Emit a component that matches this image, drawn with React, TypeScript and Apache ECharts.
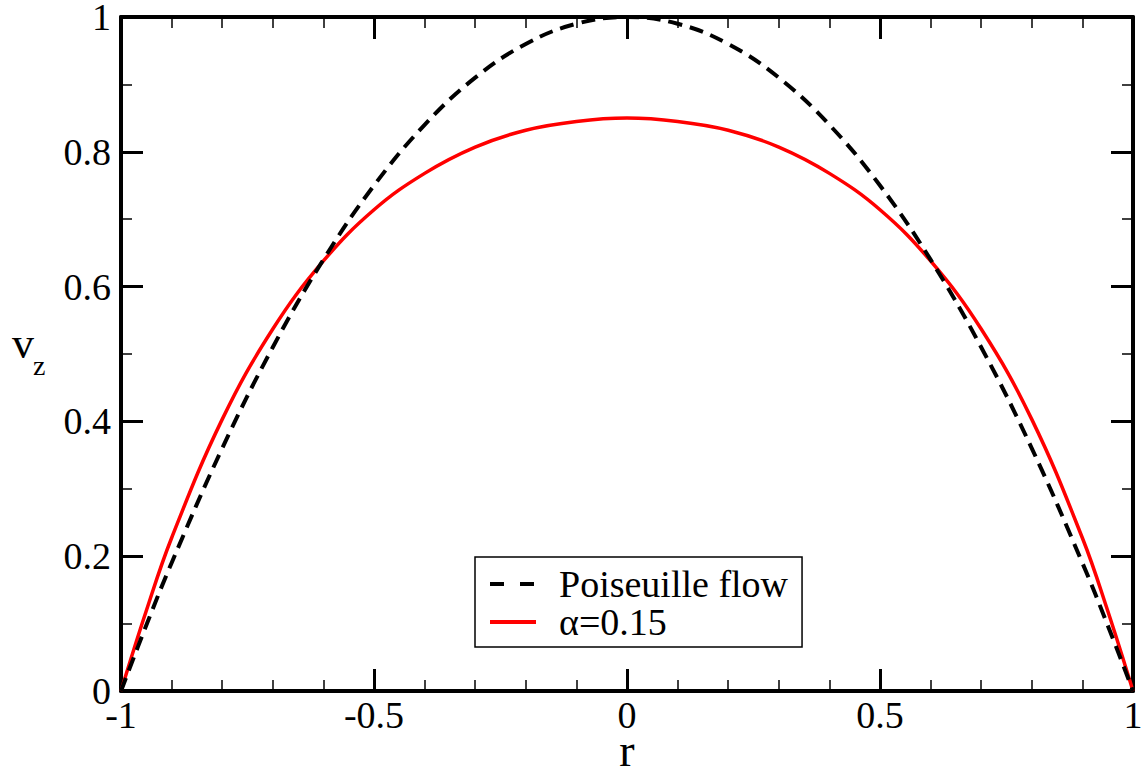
import React, { useEffect, useRef } from "react";
import * as echarts from "echarts";

const rValues = [-1, -0.95, -0.9, -0.8, -0.7, -0.6, -0.5, -0.4, -0.3, -0.2, -0.1, 0, 0.1, 0.2, 0.3, 0.4, 0.5, 0.6, 0.7, 0.8, 0.9, 0.95, 1];
const poiseuille = [0, 0.0975, 0.19, 0.36, 0.51, 0.64, 0.75, 0.84, 0.91, 0.96, 0.99, 1, 0.99, 0.96, 0.91, 0.84, 0.75, 0.64, 0.51, 0.36, 0.19, 0.0975, 0];
const alpha015 = [0, 0.119, 0.227, 0.403, 0.537, 0.638, 0.714, 0.768, 0.807, 0.832, 0.845, 0.85, 0.845, 0.832, 0.807, 0.768, 0.714, 0.638, 0.537, 0.403, 0.227, 0.119, 0];
const seriesNames = ["Poiseuille flow", "α=0.15"];

const FONT = "Liberation Serif, Times New Roman, serif";

export default function App() {
  const ref = useRef<HTMLDivElement>(null);
  useEffect(() => {
    if (!ref.current) return;
    const chart = echarts.init(ref.current, null, { renderer: "svg" });
    const line = { show: true, onZero: false, lineStyle: { color: "#000", width: 4 } };
    const tick = { show: true, inside: true, length: 22, lineStyle: { color: "#000", width: 3 } };
    const xBase = (pos: "bottom" | "top", show: boolean) => ({
      type: "value" as const,
      position: pos,
      min: -1,
      max: 1,
      interval: 0.5,
      axisLine: line,
      axisTick: tick,
      splitLine: { show: false },
      minorSplitLine: { show: false },
      minorTick: { show: true, splitNumber: 5, length: 11, lineStyle: { color: "#000", width: 1.5 } },
      axisLabel: { show, color: "#000", fontFamily: FONT, fontSize: 38, margin: 5 },
    });
    const yBase = (pos: "left" | "right", show: boolean) => ({
      type: "value" as const,
      position: pos,
      min: 0,
      max: 1,
      interval: 0.2,
      axisLine: line,
      axisTick: tick,
      splitLine: { show: false },
      minorSplitLine: { show: false },
      minorTick: { show: true, splitNumber: 2, length: 11, lineStyle: { color: "#000", width: 1.5 } },
      axisLabel: { show, color: "#000", fontFamily: FONT, fontSize: 38, lineHeight: 30, margin: 10 },
    });
    chart.setOption({
      animation: false,
      backgroundColor: "#fff",
      grid: { left: 121, right: 9, top: 17, bottom: 76, containLabel: false, outerBoundsMode: "none" },
      xAxis: [
        {
          ...xBase("bottom", true),
          name: "r",
          nameLocation: "middle",
          nameGap: 44,
          nameMoveOverlap: false,
          nameTextStyle: { color: "#000", fontFamily: FONT, fontSize: 46, lineHeight: 30 },
        },
        { ...xBase("top", false) },
      ],
      yAxis: [yBase("left", true), yBase("right", false)],
      legend: {
        orient: "vertical",
        left: 475,
        top: 557,
        padding: [8, 14, 6, 13],
        itemGap: 0,
        itemWidth: 46,
        itemHeight: 20,
        borderColor: "#000",
        borderWidth: 1.5,
        backgroundColor: "#fff",
        data: [
          { name: seriesNames[0], lineStyle: { color: "#000", width: 4, type: [14, 16] } },
          { name: seriesNames[1], lineStyle: { color: "#ff0000", width: 4 } },
        ],
        itemStyle: { opacity: 0 },
        textStyle: { color: "#000", fontFamily: FONT, fontSize: 38, padding: [0, 0, 0, 18] },
      },
      graphic: [
        { type: "text", left: 12, top: 321, style: { text: "v", fontFamily: FONT, fontSize: 44, fill: "#000" } },
        { type: "text", left: 33, top: 351, style: { text: "z", fontFamily: FONT, fontSize: 28, fill: "#000" } },
      ],
      series: [
        {
          name: seriesNames[0],
          type: "line",
          smooth: 0.4,
          symbol: "none",
          data: rValues.map((r, i) => [r, poiseuille[i]]),
          lineStyle: { color: "#000", width: 4, type: [14, 8] },
          itemStyle: { color: "#000" },
          z: 3,
        },
        {
          name: seriesNames[1],
          type: "line",
          smooth: 0.4,
          symbol: "none",
          data: rValues.map((r, i) => [r, alpha015[i]]),
          lineStyle: { color: "#ff0000", width: 3.5 },
          itemStyle: { color: "#ff0000" },
          z: 2,
        },
      ],
    });
    return () => chart.dispose();
  }, []);
  return <div ref={ref} style={{ position: "absolute", left: 0, top: 0, width: 1142, height: 767 }} />;
}
